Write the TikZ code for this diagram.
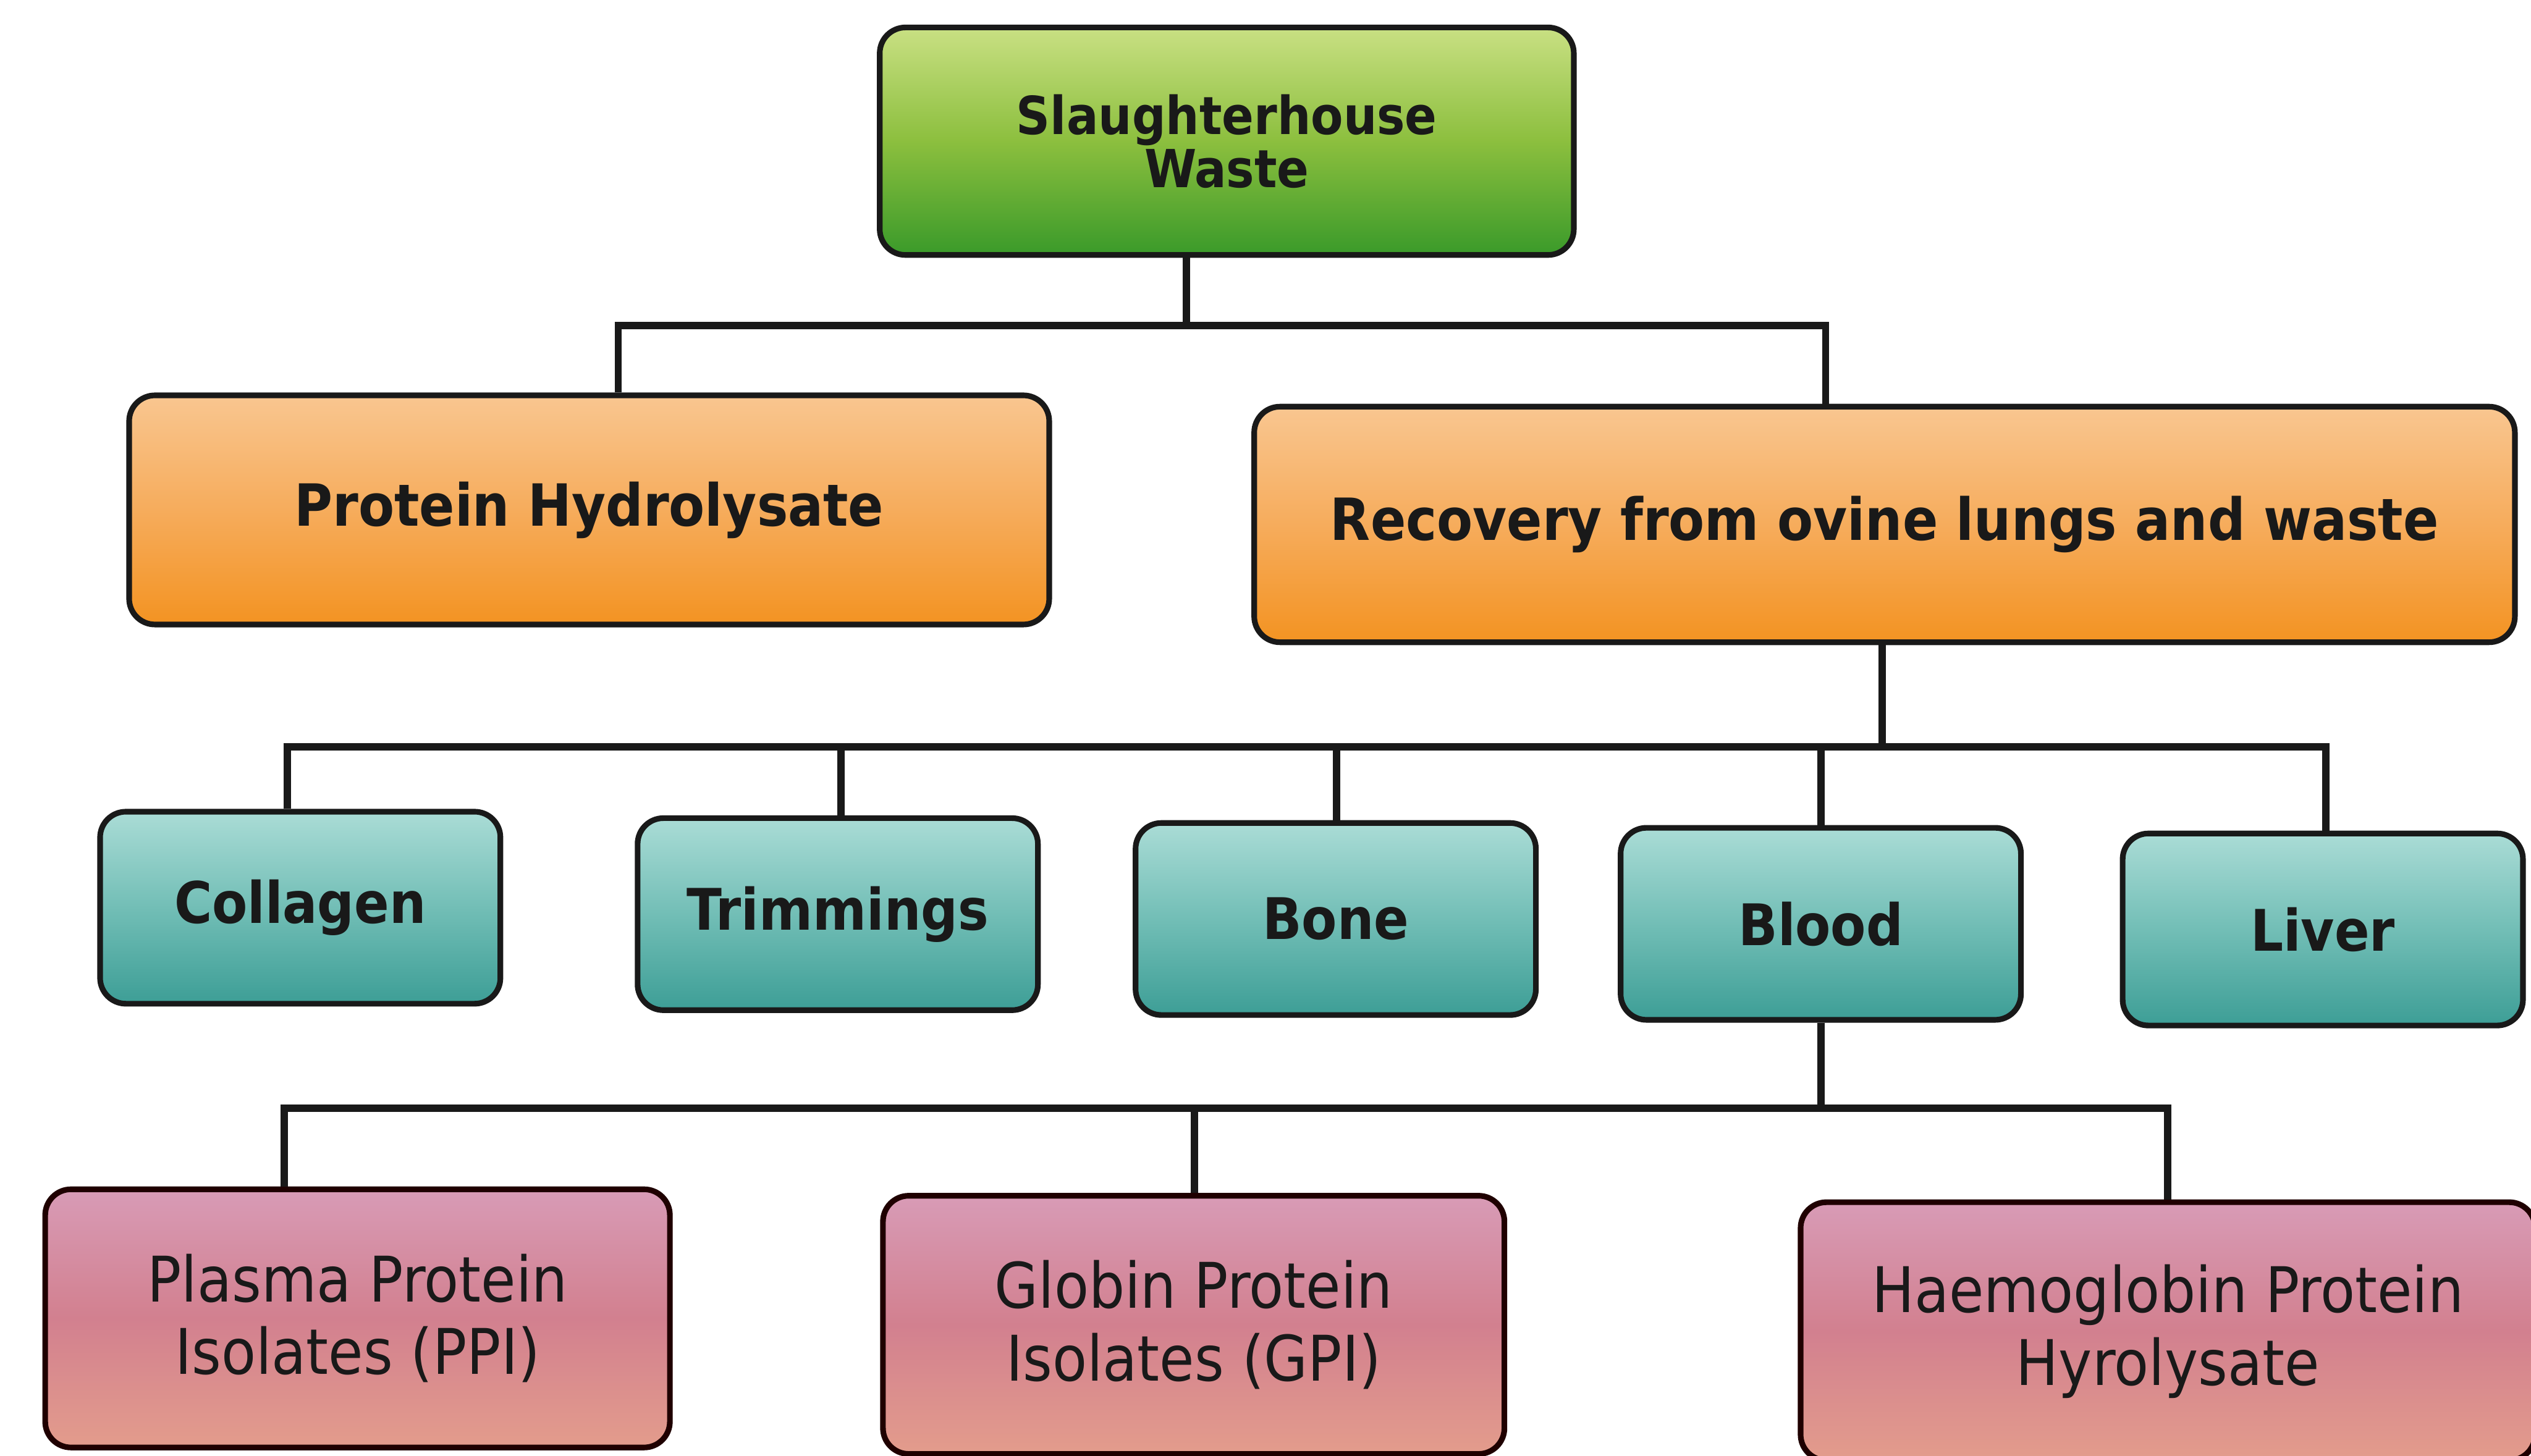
\documentclass[tikz,border=0pt]{standalone}
\usepackage{fontspec}
\setmainfont{DejaVu Sans Condensed}
\begin{document}
\begin{tikzpicture}[x=1pt,y=-1pt,
  box/.style={draw=black!90, line width=3.5pt, rounded corners=16pt, align=center, inner sep=0pt, text=black!90},
  green/.style={box, top color=green1, bottom color=green2, middle color=green3},
  orange/.style={box, top color=orange1, bottom color=orange2, middle color=orange3, font=\fontsize{36}{42}\selectfont\bfseries},
  teal/.style={box, top color=teal1, bottom color=teal2, middle color=teal3, minimum width=248pt, minimum height=119pt, font=\fontsize{35.5}{42}\selectfont\bfseries},
  pink/.style={box, draw=black!80!red!60!black, top color=pink1, bottom color=pink2, middle color=pink3, minimum height=160pt, font=\fontsize{39}{45}\selectfont},
  conn/.style={line width=4.5pt, draw=black!90}]
\definecolor{green1}{HTML}{C9E083}
\definecolor{green3}{HTML}{8CBF3E}
\definecolor{green2}{HTML}{3A9A2A}
\definecolor{orange1}{HTML}{F9C690}
\definecolor{orange3}{HTML}{F6AC5C}
\definecolor{orange2}{HTML}{F39322}
\definecolor{teal1}{HTML}{AADCD6}
\definecolor{teal3}{HTML}{72BEB6}
\definecolor{teal2}{HTML}{3D9E96}
\definecolor{pink1}{HTML}{D89BB6}
\definecolor{pink3}{HTML}{D2808F}
\definecolor{pink2}{HTML}{E39C8C}
\fill[white] (0,0) rectangle (1568,902);
\useasboundingbox (0,0) rectangle (1568,902);
% level 0
\node[green, minimum width=430pt, minimum height=141pt, font=\fontsize{32.5}{35}\selectfont\bfseries] (sw) at (760,87.5) {Slaughterhouse\\[-2pt]Waste};
% level 1
\node[orange, minimum width=570pt, minimum height=142pt] (ph) at (365,316) {Protein Hydrolysate};
\node[orange, minimum width=781pt, minimum height=146pt] (rec) at (1167.5,325) {Recovery from ovine lungs and waste};
% level 2
\node[teal] (col) at (186,562.5) {Collagen};
\node[teal] (tri) at (519,566.5) {Trimmings};
\node[teal] (bone) at (827.5,569.5) {Bone};
\node[teal] (blood) at (1128,572.5) {Blood};
\node[teal] (liver) at (1439,576) {Liver};
% level 3
\node[pink, minimum width=387pt] (ppi) at (221.5,817) {Plasma Protein\\Isolates (PPI)};
\node[pink, minimum width=385pt] (gpi) at (739.5,821) {Globin Protein\\Isolates (GPI)};
\node[pink, minimum width=455pt] (hph) at (1343,825) {Haemoglobin Protein\\Hyrolysate};
% connectors
\draw[conn] ([xshift=-25pt]sw.south) -- ++(0,42) -| ([xshift=18pt]ph.north);
\draw[conn] ([xshift=-25pt]sw.south) -- ++(0,42) -| ([xshift=-36.5pt]rec.north);
\foreach \n/\dx in {col/-8, tri/2, bone/0.5, blood/0, liver/2}
  \draw[conn] ([xshift=-1.5pt]rec.south) -- ++(0,63) -| ([xshift=\dx pt]\n.north);
\foreach \n/\dx in {ppi/-45.5, gpi/0.5, hph/0}
  \draw[conn] (blood.south) -- ++(0,53) -| ([xshift=\dx pt]\n.north);
\end{tikzpicture}
\end{document}
